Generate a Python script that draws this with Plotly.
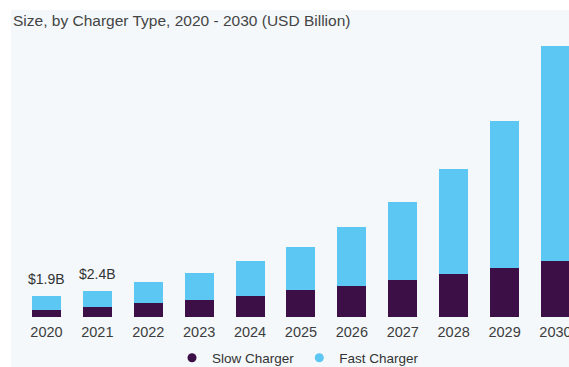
import plotly.graph_objects as go

years = ['2020', '2021', '2022', '2023', '2024', '2025', '2026', '2027', '2028', '2029', '2030']
slow_charger = [0.66, 0.87, 1.27, 1.57, 1.94, 2.48, 2.85, 3.36, 3.94, 4.42, 5.09]
fast_charger = [1.24, 1.53, 1.88, 2.43, 3.11, 3.92, 5.35, 7.09, 9.51, 13.38, 19.51]
label_years = ['2020', '2021']
label_texts = ['$1.9B', '$2.4B']

SLOW_COLOR = '#3c0f47'
FAST_COLOR = '#5cc7f2'
BG = '#f4f8fb'
FONT = 'Liberation Sans, Arial, sans-serif'

totals = [s + f for s, f in zip(slow_charger, fast_charger)]

fig = go.Figure()
fig.add_trace(go.Bar(x=years, y=slow_charger, marker=dict(color=SLOW_COLOR, line=dict(width=0)),
                     showlegend=False, name='Slow Charger'))
fig.add_trace(go.Bar(x=years, y=fast_charger, marker=dict(color=FAST_COLOR, line=dict(width=0)),
                     showlegend=False, name='Fast Charger'))
# legend entries with circular markers
fig.add_trace(go.Scatter(x=[None], y=[None], mode='markers', name='Slow Charger',
                         marker=dict(color=SLOW_COLOR, size=9, symbol='circle')))
fig.add_trace(go.Scatter(x=[None], y=[None], mode='markers', name='Fast Charger',
                         marker=dict(color=FAST_COLOR, size=9, symbol='circle')))

for yr, txt in zip(label_years, label_texts):
    i = years.index(yr)
    fig.add_annotation(x=i, y=totals[i], xref='x', yref='y', text=txt, showarrow=False,
                       yanchor='bottom', yshift=7,
                       font=dict(size=14, color='#333333', family=FONT))

fig.add_shape(type='rect', xref='paper', yref='paper', x0=-0.01825, x1=1.05, y0=-0.2, y1=1.0697,
              fillcolor=BG, line=dict(width=0), layer='below')

fig.update_layout(
    width=569, height=367,
    margin=dict(l=21, r=0, t=30, b=50, autoexpand=False),
    paper_bgcolor='white', plot_bgcolor=BG,
    barmode='stack', bargap=0.43,
    font=dict(family=FONT, color='#3a3a3a'),
    title=dict(text='Size, by Charger Type, 2020 - 2030 (USD Billion)', x=13/569, xanchor='left',
               y=1 - 21/367, yanchor='middle', font=dict(size=15.5, color='#444444', family=FONT)),
    xaxis=dict(type='category', range=[-0.5, 10.266], showgrid=False, zeroline=False, showline=False,
               ticks='', ticklabelstandoff=4,
               tickfont=dict(size=14.5, color='#3d3d3d', family=FONT)),
    yaxis=dict(range=[0, 26.09], showticklabels=False, showgrid=False, zeroline=False, showline=False),
    legend=dict(orientation='h', x=(298 - 21) / 548, xanchor='center',
                yref='container', y=1 - 358 / 367, yanchor='middle',
                font=dict(size=13.5, color='#333333', family=FONT), bgcolor='rgba(0,0,0,0)',
                traceorder='normal', itemwidth=30, tracegroupgap=0),
)

fig.write_html('out.html')
